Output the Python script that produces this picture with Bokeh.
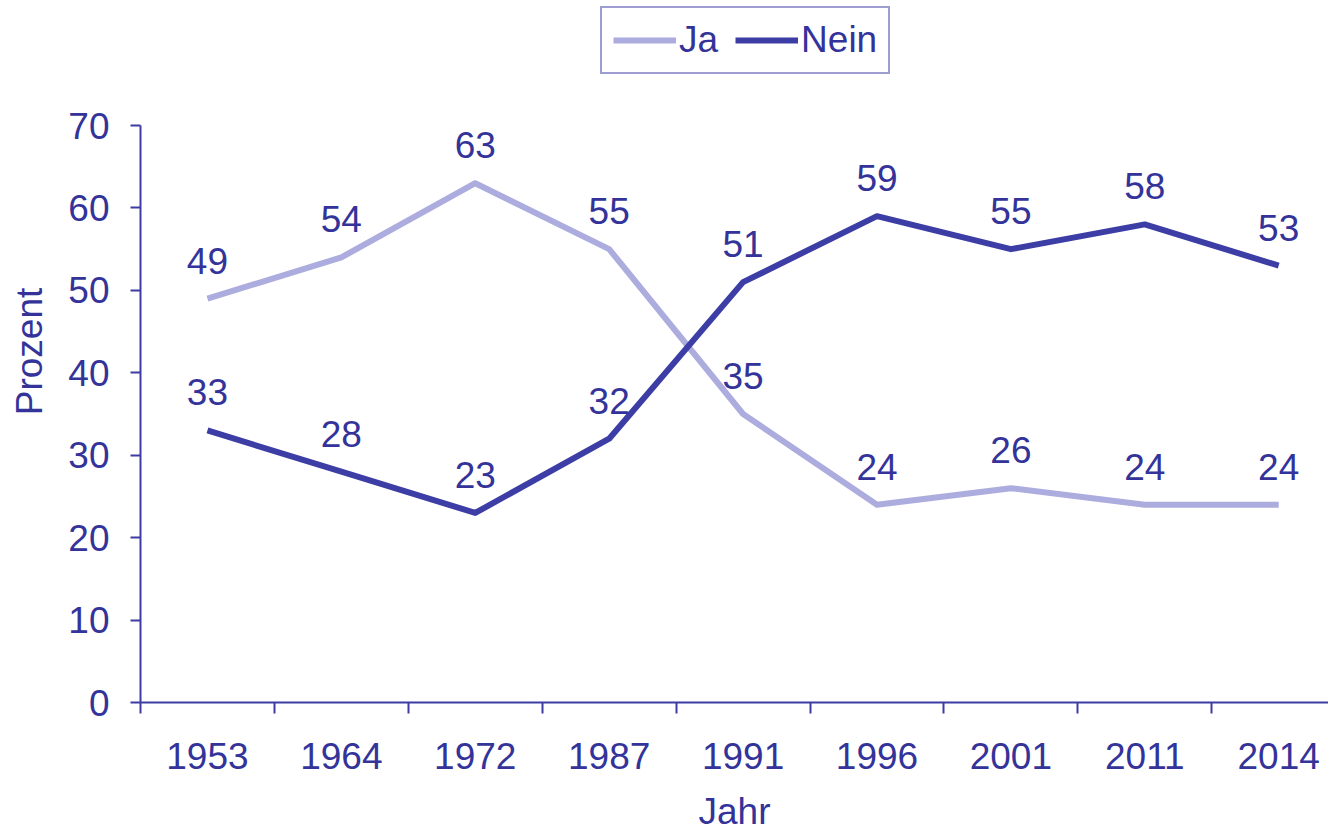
from bokeh.plotting import figure
from bokeh.models import ColumnDataSource, FixedTicker, Range1d, Legend, LegendItem
from bokeh.core.properties import value
from bokeh.embed import file_html
from bokeh.resources import INLINE

years = ["1953", "1964", "1972", "1987", "1991", "1996", "2001", "2011", "2014"]
ja = [49, 54, 63, 55, 35, 24, 26, 24, 24]
nein = [33, 28, 23, 32, 51, 59, 55, 58, 53]
y_ticks = [0, 10, 20, 30, 40, 50, 60, 70]

FONT = "Liberation Sans"
TXT = "#33339a"
AX = "#3c3ca4"
JA_C = "#acacdf"
NEIN_C = "#3d3da6"
FS = "37px"

xs = list(range(len(years)))
src = ColumnDataSource(dict(x=xs, ja=ja, nein=nein,
                            ja_t=[str(v) for v in ja], nein_t=[str(v) for v in nein]))

# frame spans from the top of the canvas to y=702; axis drawn only 0..70
p = figure(width=1328, height=834, output_backend="svg", toolbar_location=None,
           x_range=Range1d(-0.5, 8.372), y_range=Range1d(0, 70 * 702 / 577),
           min_border_left=140, min_border_top=0, min_border_right=0, min_border_bottom=132)
p.outline_line_color = None
p.xgrid.grid_line_color = None
p.ygrid.grid_line_color = None
p.background_fill_color = "white"
p.border_fill_color = "white"

r_ja = p.line("x", "ja", source=src, line_color=JA_C, line_width=6, line_join="round")
r_nein = p.line("x", "nein", source=src, line_color=NEIN_C, line_width=6, line_join="round")

for col in ["ja", "nein"]:
    p.text("x", col, text=col + "_t", source=src, text_align="center", text_baseline="alphabetic",
           y_offset=-38, text_font=value(FONT), text_font_size=FS, text_color=TXT)

# x axis
xa = p.xaxis[0]
xa.ticker = FixedTicker(ticks=xs, minor_ticks=[i - 0.5 for i in range(len(years) + 1)])
xa.major_label_overrides = {i: y for i, y in enumerate(years)}
xa.major_tick_out = 0
xa.major_tick_in = 0
xa.minor_tick_out = 11
xa.minor_tick_in = 0
xa.minor_tick_line_color = AX
xa.minor_tick_line_width = 2
xa.axis_line_color = AX
xa.axis_line_width = 2
xa.major_label_standoff = 29
xa.axis_label = "Jahr"
xa.axis_label_standoff = 19

# y axis
ya = p.yaxis[0]
ya.ticker = FixedTicker(ticks=y_ticks)
ya.bounds = (y_ticks[0], y_ticks[-1])
ya.major_tick_out = 10
ya.major_tick_in = 0
ya.minor_tick_out = 0
ya.minor_tick_in = 0
ya.major_tick_line_color = AX
ya.major_tick_line_width = 2
ya.axis_line_color = AX
ya.axis_line_width = 2
ya.major_label_standoff = 21
ya.axis_label = "Prozent"
ya.axis_label_standoff = 15

for ax in [xa, ya]:
    ax.major_label_text_font = FONT
    ax.major_label_text_font_size = FS
    ax.major_label_text_color = TXT
    ax.axis_label_text_font = FONT
    ax.axis_label_text_font_size = FS
    ax.axis_label_text_color = TXT
    ax.axis_label_text_font_style = "normal"

legend = Legend(items=[LegendItem(label="Ja", renderers=[r_ja]),
                       LegendItem(label="Nein", renderers=[r_nein])],
                location=(460, 628), orientation="horizontal",
                label_text_font=FONT, label_text_font_size=FS, label_text_color=TXT,
                border_line_color=AX, border_line_width=2,
                padding=11, spacing=17, label_standoff=3, glyph_width=63, glyph_height=30,
                margin=0, background_fill_alpha=1.0)
p.add_layout(legend, "center")

open("out.html", "w").write(file_html(p, INLINE))
